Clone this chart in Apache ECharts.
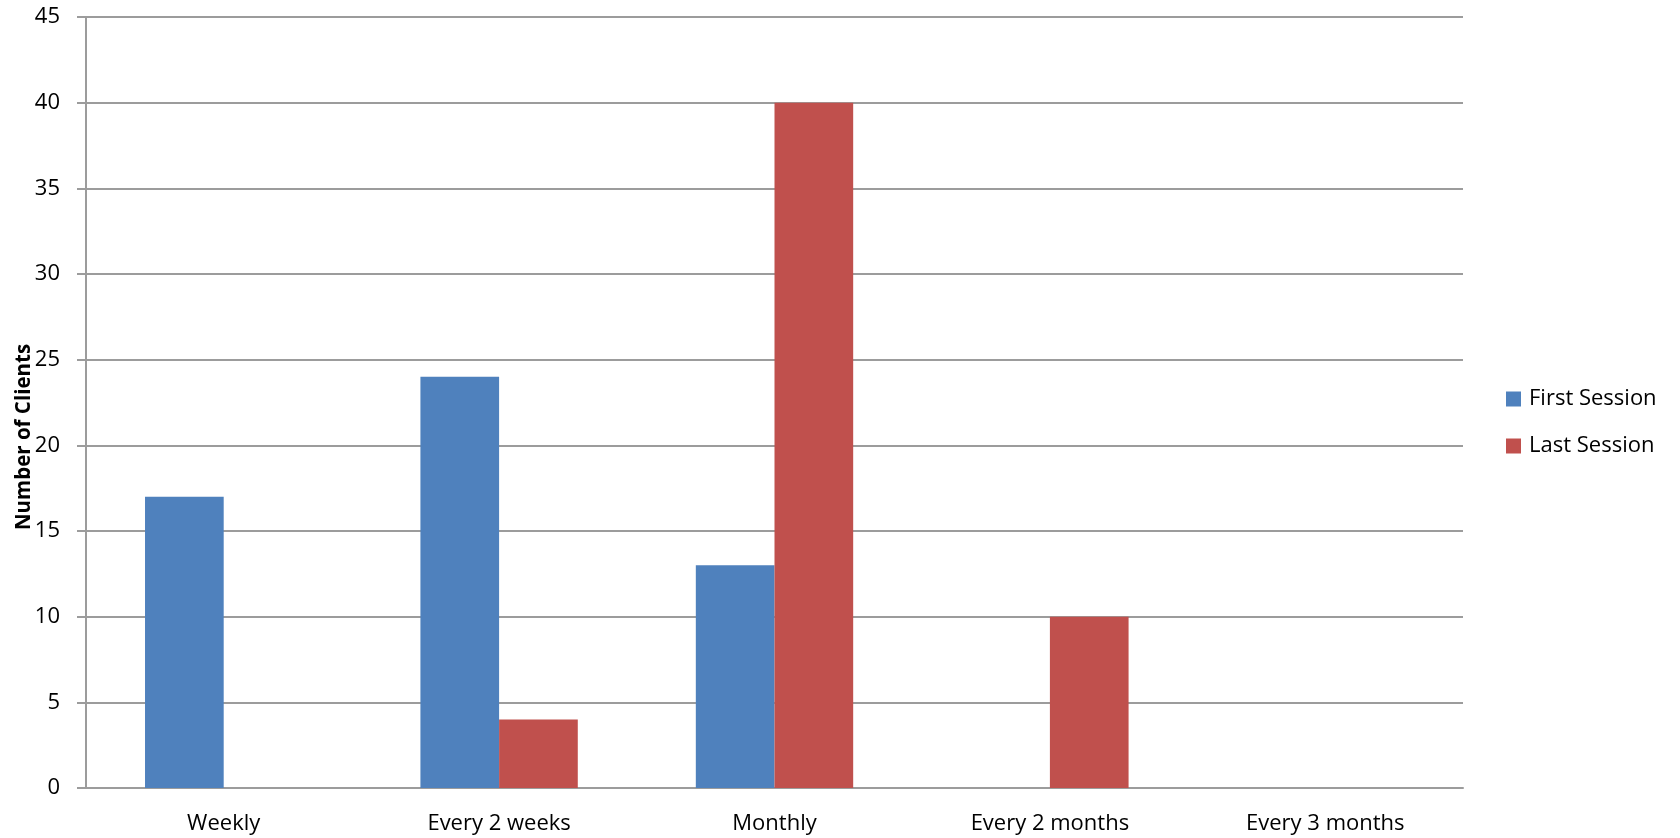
<!DOCTYPE html>
<html>
<head>
<meta charset="utf-8">
<script src="https://cdn.jsdelivr.net/npm/echarts@6/dist/echarts.min.js"></script>
<style>
  html, body { margin: 0; padding: 0; background: #fff; }
  #chart { width: 1680px; height: 838px; }
</style>
</head>
<body>
<div id="chart"></div>
<script>
// Session frequency categories and client counts
const categories = ['Weekly', 'Every 2 weeks', 'Monthly', 'Every 2 months', 'Every 3 months'];
const firstSession = [17, 24, 13, 0, 0];
const lastSession = [0, 4, 40, 10, 0];
const seriesNames = ['First Session', 'Last Session'];
const yTicks = { min: 0, max: 45, interval: 5 };

const FONT = '"Open Sans", "Noto Sans", sans-serif';
const GRID_COLOR = '#9c9c9c';

const chart = echarts.init(document.getElementById('chart'), null, { renderer: 'canvas' });

chart.setOption({
  animation: false,
  backgroundColor: '#ffffff',
  textStyle: { fontFamily: FONT },
  grid: { left: 86, right: 217, top: 17, bottom: 50, containLabel: false },
  legend: {
    orient: 'vertical',
    left: 1506,
    top: 388,
    padding: 0,
    itemWidth: 15,
    itemHeight: 15,
    itemGap: 25,
    icon: 'rect',
    textStyle: { fontFamily: FONT, fontSize: 22, color: '#000', padding: [0, 0, 0, 3] },
    data: seriesNames
  },
  graphic: [{
    type: 'text',
    x: 24,
    y: 437,
    rotation: Math.PI / 2,
    style: {
      text: 'Number of Clients',
      fontFamily: FONT,
      fontSize: 20.5,
      fontWeight: 'bold',
      fill: '#000',
      textAlign: 'center',
      textVerticalAlign: 'middle'
    }
  }],
  xAxis: {
    type: 'category',
    data: categories,
    axisLine: { show: true, lineStyle: { color: GRID_COLOR, width: 2 } },
    axisTick: { show: false },
    axisLabel: { color: '#000', fontSize: 22, fontFamily: FONT, margin: 25, interval: 0 },
    splitLine: { show: false }
  },
  yAxis: {
    type: 'value',
    min: yTicks.min,
    max: yTicks.max,
    interval: yTicks.interval,
    axisLine: { show: true, lineStyle: { color: GRID_COLOR, width: 2 } },
    axisTick: { show: true, length: 9, lineStyle: { color: GRID_COLOR, width: 2 } },
    axisLabel: { color: '#000', fontSize: 22, fontFamily: FONT, margin: 26 },
    splitLine: { show: true, lineStyle: { color: GRID_COLOR, width: 2 } }
  },
  series: [
    {
      name: seriesNames[0],
      type: 'bar',
      data: firstSession,
      barGap: '0%',
      barCategoryGap: '42.86%',
      itemStyle: { color: '#4F81BD' }
    },
    {
      name: seriesNames[1],
      type: 'bar',
      data: lastSession,
      barGap: '0%',
      barCategoryGap: '42.86%',
      itemStyle: { color: '#C0504D' }
    }
  ]
});
</script>
</body>
</html>
